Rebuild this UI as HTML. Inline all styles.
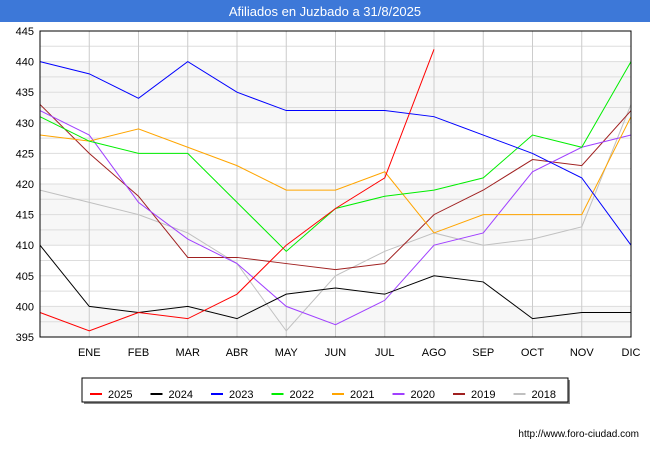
<!DOCTYPE html>
<html><head><meta charset="utf-8"><style>
body{margin:0;width:650px;height:450px;background:#fff;font-family:"Liberation Sans",sans-serif;overflow:hidden}
</style></head><body>
<svg width="650" height="450" xmlns="http://www.w3.org/2000/svg">
<rect x="0" y="0" width="650" height="22" fill="#3d78d8"/>
<text x="325" y="16" text-anchor="middle" fill="#fff" font-size="13">Afiliados en Juzbado a 31/8/2025</text>
<g id="grid"></g><g id="axes"></g><g id="series"></g>
<rect x="40" y="31" width="591" height="306" fill="none" stroke="#000" stroke-width="1"/>
<g>
<rect x="84" y="380" width="486" height="24" fill="#888"/>
<rect x="82" y="378" width="486" height="24" fill="#fff" stroke="#000"/>
<g id="legend"></g></g>
<text x="639" y="437" text-anchor="end" font-size="10" fill="#000">http://www.foro-ciudad.com</text>
</svg>
<script>
const categories=["","ENE","FEB","MAR","ABR","MAY","JUN","JUL","AGO","SEP","OCT","NOV","DIC"];
const yTicks=[395,400,405,410,415,420,425,430,435,440,445];
const seriesNames=["2025","2024","2023","2022","2021","2020","2019","2018"];
const seriesColors=["#ff0000","#000000","#0000ff","#00ee00","#ffa500","#a040ff","#a02020","#c0c0c0"];
const s2025=[399,396,399,398,402,410,416,421,442];
const s2024=[410,400,399,400,398,402,403,402,405,404,398,399,399];
const s2023=[440,438,434,440,435,432,432,432,431,428,425,421,410];
const s2022=[431,427,425,425,417,409,416,418,419,421,428,426,440];
const s2021=[428,427,429,426,423,419,419,422,412,415,415,415,431];
const s2020=[432,428,417,411,407,400,397,401,410,412,422,426,428];
const s2019=[433,425,418,408,408,407,406,407,415,419,424,423,432];
const s2018=[419,417,415,412,407,396,405,409,412,410,411,413,433];
const allSeries=[s2025,s2024,s2023,s2022,s2021,s2020,s2019,s2018];
const NS="http://www.w3.org/2000/svg";
const X0=40,X1=631,Y0=337,Y1=31,YMIN=395,YMAX=445;
const xs=i=>X0+i*(X1-X0)/(categories.length-1);
const ys=v=>Y0-(v-YMIN)*(Y0-Y1)/(YMAX-YMIN);
function mk(t,a,p){const e=document.createElementNS(NS,t);for(const k in a)e.setAttribute(k,a[k]);p.appendChild(e);return e;}
const grid=document.getElementById('grid'),axes=document.getElementById('axes'),ser=document.getElementById('series'),leg=document.getElementById('legend');
[[395,400],[410,420],[430,440]].forEach(b=>{mk('rect',{x:X0,y:ys(b[1]),width:X1-X0,height:ys(b[0])-ys(b[1]),fill:'#f7f7f7'},grid);});
for(let v=YMIN;v<=YMAX;v+=2.5){const l=mk('line',{x1:X0,x2:X1,y1:ys(v),y2:ys(v),stroke:'#dddddd'},grid);}
for(let i=1;i<categories.length;i++){const l=mk('line',{x1:xs(i),x2:xs(i),y1:Y1,y2:Y0,stroke:'#cccccc'},grid);}
yTicks.forEach(v=>{const t=mk('text',{x:X0-6,y:ys(v)+4,'text-anchor':'end','font-size':11,fill:'#000'},axes);t.textContent=v;});
categories.forEach((c,i)=>{if(!c)return;const t=mk('text',{x:xs(i),y:356,'text-anchor':'middle','font-size':11,fill:'#000'},axes);t.textContent=c;});
for(let s=allSeries.length-1;s>=0;s--){const p=mk('polyline',{points:allSeries[s].map((v,i)=>xs(i)+','+ys(v)).join(' '),fill:'none',stroke:seriesColors[s],'stroke-width':1},ser);}
seriesNames.forEach((n,i)=>{const x=90+i*60.5;const g=mk('g',{},leg);mk('line',{x1:x,x2:x+12,y1:394,y2:394,stroke:seriesColors[i],'stroke-width':2},g);const t=mk('text',{x:x+18,y:398,'font-size':11,fill:'#000'},g);t.textContent=n;});
</script>
</body></html>
